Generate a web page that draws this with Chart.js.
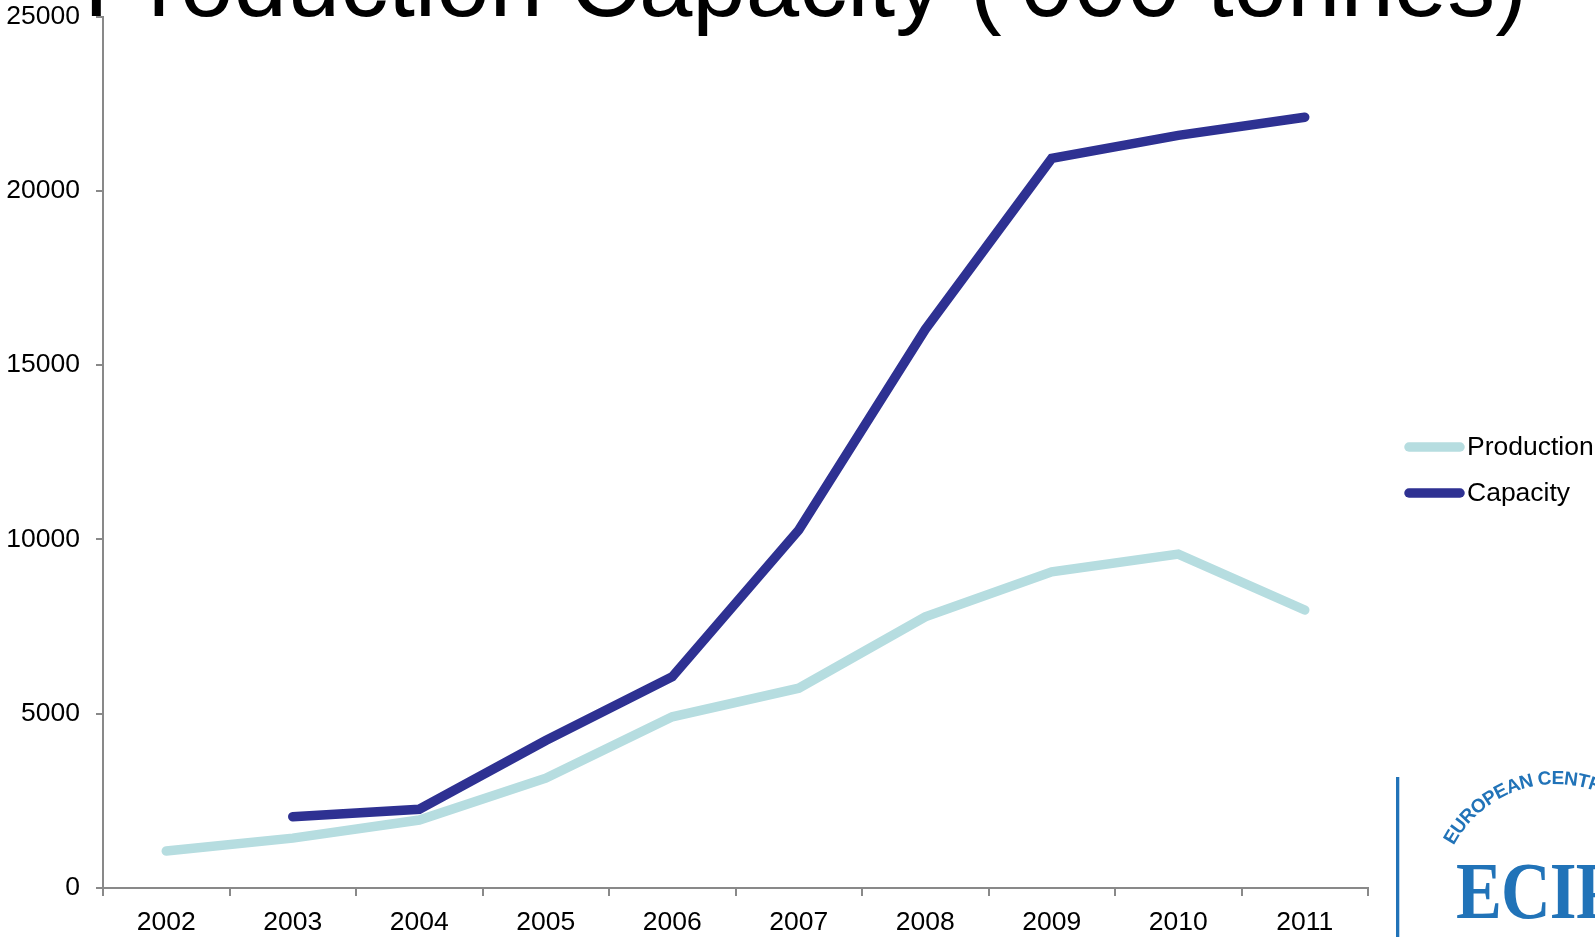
<!DOCTYPE html>
<html>
<head>
<meta charset="utf-8">
<script src="https://cdn.jsdelivr.net/npm/chart.js@4/dist/chart.umd.min.js"></script>
<style>
  html, body { margin: 0; padding: 0; background: #ffffff; overflow: hidden; }
  #wrap { position: relative; width: 1595px; height: 937px; }
  #chart { position: absolute; left: 0; top: 0; }
  #logo { position: absolute; left: 0; top: 0; width: 1595px; height: 937px; pointer-events: none; }
</style>
</head>
<body>
<div id="wrap">
  <canvas id="chart" width="1595" height="937"></canvas>
  <svg id="logo" width="1595" height="937" xmlns="http://www.w3.org/2000/svg">
    <defs>
      <path id="arc" d="M 1453.6 845.6 A 116 116 0 0 1 1670.2 879.9" fill="none"/>
    </defs>
    <rect x="1396" y="777" width="3.3" height="160" fill="#2173b8"/>
    <text font-family="'Liberation Sans', Arial, sans-serif" font-weight="bold" font-size="19" letter-spacing="-0.6" fill="#2173b8">
      <textPath href="#arc">EUROPEAN CENTRE FOR INTERNATIONAL POLITICAL ECONOMY</textPath>
    </text>
    <text x="0" y="0" transform="translate(1456 918) scale(0.86 1)" font-family="'Liberation Serif', 'Times New Roman', serif" font-weight="bold" font-size="80" letter-spacing="-1" fill="#2173b8">ECIPE</text>
  </svg>
</div>
<script>
// Categories and series ('000 tonnes)
const years = ['2002', '2003', '2004', '2005', '2006', '2007', '2008', '2009', '2010', '2011'];
const production = [1060, 1430, 1950, 3150, 4910, 5730, 7780, 9070, 9580, 7975];
const capacity = [null, 2045, 2260, 4230, 6060, 10270, 16020, 20930, 21590, 22110];
const seriesNames = ['Production', 'Capacity'];
const yTickValues = [0, 5000, 10000, 15000, 20000, 25000];

const titleText = "Production Capacity ('000 tonnes)";
const colProduction = '#b6dde0';
const colCapacity = '#2e3192';
const axisGrey = '#898989';
const FONT = "'Liberation Sans', Arial, Helvetica, sans-serif";
const LABEL_SIZE = 26.5;

// Big heading, sitting mostly above the top edge of the page
const titlePlugin = {
  id: 'bigTitle',
  afterDraw(chart) {
    const ctx = chart.ctx;
    ctx.save();
    ctx.fillStyle = '#000';
    ctx.font = '96px ' + FONT;
    ctx.textAlign = 'left';
    ctx.textBaseline = 'alphabetic';
    ctx.fillText(titleText, 84, 16);
    ctx.restore();
  }
};

// Legend on the right, one short thick line per series
const legendPlugin = {
  id: 'sideLegend',
  afterDraw(chart) {
    const ctx = chart.ctx;
    const rows = [447, 493];
    ctx.save();
    chart.data.datasets
      .slice()
      .sort((a, b) => seriesNames.indexOf(a.label) - seriesNames.indexOf(b.label))
      .forEach((ds, i) => {
        const y = rows[i];
        ctx.strokeStyle = ds.borderColor;
        ctx.lineWidth = ds.borderWidth;
        ctx.lineCap = 'round';
        ctx.beginPath();
        ctx.moveTo(1409, y);
        ctx.lineTo(1460, y);
        ctx.stroke();
        ctx.fillStyle = '#000';
        ctx.font = LABEL_SIZE + 'px ' + FONT;
        ctx.textBaseline = 'middle';
        ctx.textAlign = 'left';
        ctx.fillText(ds.label, 1467, y + 1);
      });
    ctx.restore();
  }
};

new Chart(document.getElementById('chart'), {
  type: 'line',
  data: {
    labels: years,
    datasets: [
      {
        label: seriesNames[0],
        data: production,
        borderColor: colProduction,
        backgroundColor: colProduction,
        borderWidth: 9.5,
        order: 1
      },
      {
        label: seriesNames[1],
        data: capacity,
        borderColor: colCapacity,
        backgroundColor: colCapacity,
        borderWidth: 9.5,
        order: 0
      }
    ]
  },
  options: {
    responsive: false,
    animation: false,
    devicePixelRatio: 1,
    layout: { padding: { top: 16.5, right: 227, left: 0, bottom: 0 } },
    elements: {
      point: { radius: 0, hoverRadius: 0 },
      line: { tension: 0, borderCapStyle: 'round', borderJoinStyle: 'miter', fill: false }
    },
    plugins: {
      legend: { display: false },
      title: { display: false },
      tooltip: { enabled: false }
    },
    scales: {
      x: {
        type: 'category',
        offset: true,
        grid: {
          display: true,
          drawOnChartArea: false,
          drawTicks: true,
          offset: true,
          tickLength: 8,
          color: axisGrey,
          lineWidth: 2
        },
        border: { display: true, color: axisGrey, width: 2 },
        ticks: {
          color: '#000',
          font: { family: FONT, size: LABEL_SIZE },
          padding: 11,
          maxRotation: 0,
          autoSkip: false
        },
        afterFit(scale) { scale.height = 49; }
      },
      y: {
        min: 0,
        max: 25000,
        afterBuildTicks(scale) { scale.ticks = yTickValues.map(v => ({ value: v })); },
        grid: {
          display: true,
          drawOnChartArea: false,
          drawTicks: true,
          tickLength: 7,
          color: axisGrey,
          lineWidth: 2
        },
        border: { display: true, color: axisGrey, width: 2 },
        ticks: {
          color: '#000',
          font: { family: FONT, size: LABEL_SIZE },
          padding: 16,
          callback: v => String(v)
        },
        afterFit(scale) {
          scale.width = 103;
          scale.paddingTop = 0;
          scale.paddingBottom = 0;
        }
      }
    }
  },
  plugins: [titlePlugin, legendPlugin]
});
</script>
</body>
</html>
